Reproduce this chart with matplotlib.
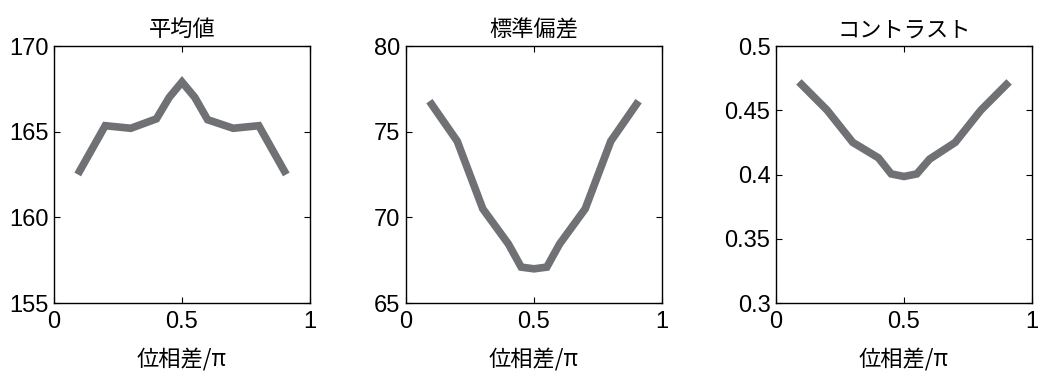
import matplotlib
matplotlib.use("Agg")
import matplotlib.pyplot as plt

phase = [0.1, 0.2, 0.3, 0.4, 0.45, 0.5, 0.55, 0.6, 0.7, 0.8, 0.9]
mean_vals = [162.7, 165.35, 165.2, 165.75, 167.0, 167.9, 167.0, 165.7, 165.2, 165.35, 162.7]
std_vals = [76.6, 74.45, 70.5, 68.45, 67.1, 67.0, 67.1, 68.45, 70.5, 74.45, 76.6]
contrast_vals = [0.470, 0.450, 0.425, 0.413, 0.4005, 0.3985, 0.4005, 0.412, 0.425, 0.450, 0.470]

titles = ["平均値", "標準偏差", "コントラスト"]
xlabel = "位相差/π"
ylims = [(155, 170), (65, 80), (0.3, 0.5)]
yticks = [[155, 160, 165, 170], [65, 70, 75, 80], [0.3, 0.35, 0.4, 0.45, 0.5]]
yticklabels = [["155", "160", "165", "170"], ["65", "70", "75", "80"],
               ["0.3", "0.35", "0.4", "0.45", "0.5"]]
xticks = [0, 0.5, 1]
xticklabels = ["0", "0.5", "1"]
series = [mean_vals, std_vals, contrast_vals]

cjk = ["Noto Sans CJK JP", "DejaVu Sans"]
num_font = ["Liberation Sans", "DejaVu Sans"]

fig = plt.figure(figsize=(10.4, 3.71), dpi=100)
lefts = [54 / 1040, 406 / 1040, 776 / 1040]
for i in range(3):
    ax = fig.add_axes([lefts[i], 0.183, 256 / 1040, 0.693])
    ax.plot(phase, series[i], color="#707174", linewidth=5.5, solid_joinstyle="miter")
    ax.set_xlim(0, 1)
    ax.set_ylim(*ylims[i])
    ax.set_xticks(xticks)
    ax.set_xticklabels(xticklabels, family=num_font, fontsize=17)
    ax.set_yticks(yticks[i])
    ax.set_yticklabels(yticklabels[i], family=num_font, fontsize=17)
    ax.tick_params(direction="in", top=True, right=True, length=4, width=0.8)
    ax.tick_params(axis="x", pad=6)
    ax.tick_params(axis="y", pad=4)
    for s in ax.spines.values():
        s.set_linewidth(1.0)
    ax.set_title(titles[i], family=cjk, fontsize=16, pad=7)
    ax.set_xlabel(xlabel, family=cjk, fontsize=16, labelpad=11)

fig.savefig("out.png", dpi=100)
